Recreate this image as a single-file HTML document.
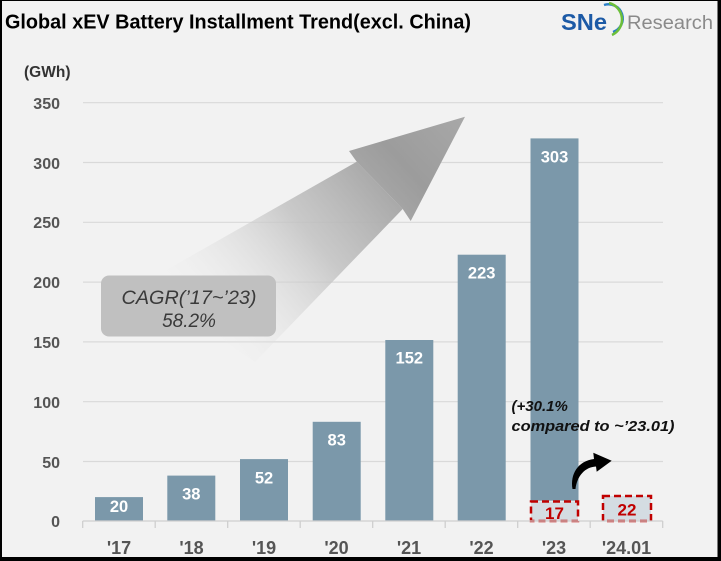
<!DOCTYPE html>
<html><head><meta charset="utf-8"><style>
html,body{margin:0;padding:0;background:#000;}
svg{display:block;}
text{font-family:"Liberation Sans",sans-serif;}
</style></head><body>
<svg width="721" height="561" viewBox="0 0 721 561" xmlns="http://www.w3.org/2000/svg">
<defs>
<linearGradient id="shaft" gradientUnits="userSpaceOnUse" x1="395" y1="180" x2="200" y2="340">
<stop offset="0" stop-color="#a4a4a4"/>
<stop offset="0.4" stop-color="#c2c2c2" stop-opacity="0.85"/>
<stop offset="1" stop-color="#f2f2f2" stop-opacity="0"/>
</linearGradient>
<linearGradient id="head" gradientUnits="userSpaceOnUse" x1="350" y1="220" x2="465" y2="117">
<stop offset="0" stop-color="#b0b0b0"/>
<stop offset="0.5" stop-color="#9c9c9c"/>
<stop offset="1" stop-color="#a8a8a8"/>
</linearGradient>
</defs>
<rect x="0" y="0" width="721" height="561" fill="#000"/>
<rect x="2" y="1" width="715.5" height="556" fill="#f2f2f2"/>

<!-- title -->
<text x="5" y="28.5" font-size="20" font-weight="bold" fill="#000" textLength="466" lengthAdjust="spacingAndGlyphs">Global xEV Battery Installment Trend(excl. China)</text>

<!-- logo -->
<text x="561" y="30" font-size="23" font-weight="bold" fill="#1c5aa6" textLength="46" lengthAdjust="spacingAndGlyphs">SNe</text>
<path d="M604,5 A14,14 0 0 1 613,32" fill="none" stroke="#2a7fc8" stroke-width="2.5"/>
<path d="M609,3 A17,17 0 0 1 612,35" fill="none" stroke="#6cbf3a" stroke-width="2.5"/>
<text x="627" y="29" font-size="19" fill="#8a8a8a" textLength="86" lengthAdjust="spacingAndGlyphs">Research</text>

<!-- unit -->
<text x="24" y="77" font-size="15.5" font-weight="bold" fill="#333">(GWh)</text>

<!-- gridlines -->
<g stroke="#d9d9d9" stroke-width="1.2">
<line x1="83" y1="102.7" x2="663" y2="102.7"/>
<line x1="83" y1="162.5" x2="663" y2="162.5"/>
<line x1="83" y1="222.3" x2="663" y2="222.3"/>
<line x1="83" y1="282.1" x2="663" y2="282.1"/>
<line x1="83" y1="341.9" x2="663" y2="341.9"/>
<line x1="83" y1="401.7" x2="663" y2="401.7"/>
<line x1="83" y1="461.5" x2="663" y2="461.5"/>
</g>

<!-- y labels -->
<g font-size="16" font-weight="bold" fill="#555" text-anchor="end">
<text x="60" y="109">350</text>
<text x="60" y="169">300</text>
<text x="60" y="228">250</text>
<text x="60" y="288">200</text>
<text x="60" y="348">150</text>
<text x="60" y="408">100</text>
<text x="60" y="468">50</text>
<text x="60" y="527">0</text>
</g>

<!-- big arrow -->
<path d="M356.7,161.7 L402.7,209 L255,362 L140,285 Z" fill="url(#shaft)"/>
<path d="M465,116.7 L349,151 L356.7,161.7 L402.7,209 L410.7,221 Z" fill="url(#head)"/>

<!-- CAGR box -->
<rect x="101" y="275.5" width="175" height="61" rx="8" fill="#c0c0c0"/>
<text x="189" y="304" font-size="19" font-style="italic" fill="#3a3a3a" text-anchor="middle" textLength="135" lengthAdjust="spacingAndGlyphs">CAGR(’17~’23)</text>
<text x="189" y="327" font-size="19" font-style="italic" fill="#3a3a3a" text-anchor="middle">58.2%</text>

<!-- bars -->
<g fill="#7b98aa">
<rect x="95" y="497.1" width="48" height="23.9"/>
<rect x="167.3" y="475.6" width="48" height="45.4"/>
<rect x="240" y="459.1" width="48" height="61.9"/>
<rect x="312.7" y="421.8" width="48" height="99.2"/>
<rect x="385.3" y="340" width="48" height="181"/>
<rect x="457.7" y="254.7" width="48" height="266.3"/>
<rect x="530.5" y="138.4" width="48" height="362.3"/>
</g>

<!-- dashed boxes -->
<rect x="531" y="501.5" width="47" height="19.5" fill="#d4dce2" stroke="#c00000" stroke-width="2.5" stroke-dasharray="7,4"/>
<rect x="603" y="496" width="48" height="25" fill="#d4dce2" stroke="#c00000" stroke-width="2.5" stroke-dasharray="7,4"/>

<!-- axis -->
<g stroke="#cfcfcf" stroke-width="1.3">
<line x1="82.7" y1="521" x2="662.7" y2="521"/>
<line x1="82.7" y1="521" x2="82.7" y2="528"/>
<line x1="155.2" y1="521" x2="155.2" y2="528"/>
<line x1="227.7" y1="521" x2="227.7" y2="528"/>
<line x1="300.2" y1="521" x2="300.2" y2="528"/>
<line x1="372.7" y1="521" x2="372.7" y2="528"/>
<line x1="445.2" y1="521" x2="445.2" y2="528"/>
<line x1="517.7" y1="521" x2="517.7" y2="528"/>
<line x1="590.2" y1="521" x2="590.2" y2="528"/>
<line x1="662.7" y1="521" x2="662.7" y2="528"/>
</g>

<!-- bar labels -->
<g font-size="16.5" font-weight="bold" fill="#fff" text-anchor="middle">
<text x="119" y="512">20</text>
<text x="191.3" y="499.5">38</text>
<text x="264" y="483.5">52</text>
<text x="336.7" y="445.5">83</text>
<text x="409.3" y="363.5">152</text>
<text x="481.7" y="278.5">223</text>
<text x="554.5" y="162.5">303</text>
</g>
<g font-size="17" font-weight="bold" fill="#c00000" text-anchor="middle">
<text x="554.5" y="519">17</text>
<text x="627" y="515.5">22</text>
</g>

<!-- x labels -->
<g font-size="18" font-weight="bold" fill="#555" text-anchor="middle">
<text x="119" y="554">'17</text>
<text x="191.5" y="554">'18</text>
<text x="264" y="554">'19</text>
<text x="336.5" y="554">'20</text>
<text x="409" y="554">'21</text>
<text x="481.5" y="554">'22</text>
<text x="554" y="554">'23</text>
<text x="626.5" y="554">'24.01</text>
</g>

<!-- annotation -->
<text x="511.5" y="411" font-size="15" font-weight="bold" font-style="italic" fill="#111">(+30.1%</text>
<text x="511.5" y="431" font-size="15" font-weight="bold" font-style="italic" fill="#111" textLength="163" lengthAdjust="spacingAndGlyphs">compared to ~’23.01)</text>

<!-- curved arrow -->
<path d="M572.5,489 C570,474 578,461 594,459 L593.3,452.7 L611.7,460.7 L596.7,471.7 L596,466.5 C585,467 577,476 575.5,489 Z" fill="#000"/>
</svg>
</body></html>
